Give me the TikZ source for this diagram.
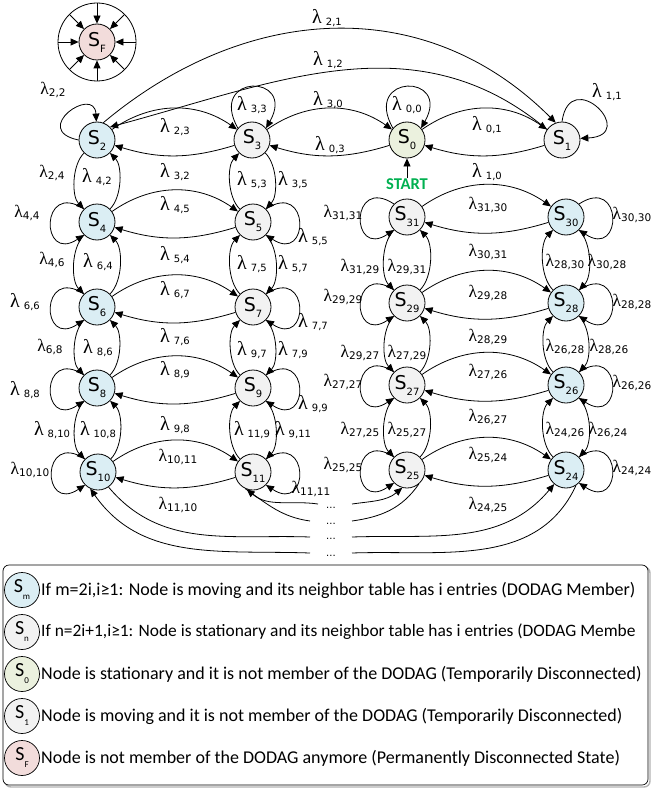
\documentclass[tikz,border=0pt]{standalone}
\usepackage{fontspec}
\setmainfont{DejaVu Sans}
\newfontfamily\lamfont{Liberation Serif}
\newfontfamily\legfont{Carlito}
\usetikzlibrary{arrows.meta}

\definecolor{mvblue}{RGB}{219,238,244}
\definecolor{stgray}{RGB}{242,242,242}
\definecolor{dcgreen}{RGB}{235,241,222}
\definecolor{fpink}{RGB}{242,220,219}
\definecolor{startgreen}{RGB}{0,176,80}

% state name S with a subscript
\newcommand\sname[1]{{\fontsize{19}{19}\selectfont S}\raisebox{-6pt}{\fontsize{10}{10}\selectfont #1}}
\newcommand\lname[1]{{\legfont\fontsize{20}{20}\selectfont S}\raisebox{-7pt}{\legfont\fontsize{9}{9}\selectfont #1}}
% transition rates: spaced and compact forms
\newcommand\lamA[1]{{\lamfont\fontsize{20}{20}\selectfont λ}\hspace{4pt}\raisebox{-2pt}{\fontsize{10}{10}\selectfont #1}}
\newcommand\lamB[1]{{\lamfont\fontsize{17.5}{17.5}\selectfont λ}\raisebox{-2pt}{\fontsize{10.5}{10.5}\selectfont #1}}

\newcommand\SN[5]{\node[stnode, fill=#2] (#1) at (#3,-#4) {\sname{#5}};}
\newcommand\LA[4]{\node[lab] (#1) at (#2,-#3) {\lamA{#4}};}
\newcommand\LB[4]{\node[lab] (#1) at (#2,-#3) {\lamB{#4}};}

% pair of opposite transitions between horizontal neighbours (#1 left, #2 right)
\newcommand\hpair[2]{\draw[arr] (#1) to[bend left=35] (#2); \draw[arr] (#2) to[bend left=17] (#1);}
% vertical neighbours, #1 above #2
\newcommand\vpairL[2]{\draw[arr] (#1) to[bend right=45, looseness=0.8] (#2); \draw[arr] (#2) to[bend right=45, looseness=0.8] (#1);}
\newcommand\vpairR[2]{\draw[arr] (#2) to[bend left=45, looseness=0.8] (#1); \draw[arr] (#1) to[bend left=45, looseness=0.8] (#2);}
% self loops
\newcommand\loopW[1]{\draw[arr] (#1.135) .. controls +(-44,29) and +(-44,-29) .. (#1.225);}
\newcommand\loopE[1]{\draw[arr] (#1.45) .. controls +(44,29) and +(44,-29) .. (#1.-45);}
\newcommand\loopN[1]{\draw[arr] (#1.140) .. controls +(-31,55) and +(31,55) .. (#1.40);}

\begin{document}
\begin{tikzpicture}[x=1pt, y=1pt,
  stnode/.style={circle, draw, line width=0.8pt, minimum size=36pt, inner sep=0pt},
  legcirc/.style={circle, draw, line width=0.7pt, minimum size=35pt, inner sep=0pt},
  lab/.style={inner sep=0pt, anchor=center},
  arr/.style={-{Triangle[length=8pt, width=7pt]}, line width=0.8pt},
  plain/.style={line width=0.8pt},
  dotlab/.style={inner sep=0pt, anchor=base, font=\fontsize{10}{10}\selectfont},
  legtxt/.style={inner sep=0pt, anchor=west, font=\legfont\fontsize{18}{18}\selectfont}]
\useasboundingbox (0,0) rectangle (652,-789);

% states
\SN{S2}{mvblue}{97}{140}{2}
\SN{S3}{stgray}{252}{140}{3}
\SN{S0}{dcgreen}{407}{140}{0}
\SN{S1}{stgray}{562}{140}{1}
\SN{S4}{mvblue}{97}{222}{4}
\SN{S5}{stgray}{253}{222}{5}
\SN{S6}{mvblue}{97}{307}{6}
\SN{S7}{stgray}{253}{307}{7}
\SN{S8}{mvblue}{97}{388}{8}
\SN{S9}{stgray}{253}{388}{9}
\SN{S10}{mvblue}{98}{472}{10}
\SN{S11}{stgray}{253}{472}{11}
\SN{S31}{stgray}{407}{217}{31}
\SN{S30}{mvblue}{566}{217}{30}
\SN{S29}{stgray}{407}{303}{29}
\SN{S28}{mvblue}{566}{303}{28}
\SN{S27}{stgray}{407}{385}{27}
\SN{S26}{mvblue}{566}{385}{26}
\SN{S25}{stgray}{407}{470}{25}
\SN{S24}{mvblue}{566}{470}{24}
\SN{SF}{fpink}{97}{42}{F}

% absorbing state
\draw[plain] (SF.center) circle[radius=39];
\foreach \a in {0,45,...,315}
  \draw[arr] ([shift={(\a:39)}]SF.center) -- (SF.\a);

% start marker
\node[inner sep=0pt, font=\legfont\bfseries\fontsize{16.5}{16.5}\selectfont, text=startgreen] (start) at (407,-184) {START};
\draw[arr] (start.north) -- (S0);

% horizontal transitions
\hpair{S2}{S3} \hpair{S3}{S0} \hpair{S0}{S1}
\hpair{S4}{S5} \hpair{S6}{S7} \hpair{S8}{S9} \hpair{S10}{S11}
\hpair{S31}{S30} \hpair{S29}{S28} \hpair{S27}{S26} \hpair{S25}{S24}

% vertical transitions
\vpairL{S2}{S4} \vpairL{S4}{S6} \vpairL{S6}{S8} \vpairL{S8}{S10}
\vpairL{S31}{S29} \vpairL{S29}{S27} \vpairL{S27}{S25}
\vpairR{S3}{S5} \vpairR{S5}{S7} \vpairR{S7}{S9} \vpairR{S9}{S11}
\vpairR{S30}{S28} \vpairR{S28}{S26} \vpairR{S26}{S24}

% self loops
\draw[arr] (S2.180) .. controls +(-49,10) and +(-2,37) .. (S2.92);
\loopN{S3} \loopN{S0}
\draw[arr] (S1.90) .. controls +(8,57) and +(60,3) .. (S1.5);
\loopW{S4} \loopW{S6} \loopW{S8} \loopW{S10}
\loopW{S31} \loopW{S29} \loopW{S27} \loopW{S25}
\loopE{S5} \loopE{S7} \loopE{S9} \loopE{S11}
\loopE{S30} \loopE{S28} \loopE{S26} \loopE{S24}

% long transitions between S1 and S2
\draw[arr] (S2.70) to[out=40, in=135, looseness=1.05] (S1.110);
\draw[arr] (S1.145) to[out=140, in=15] (S2.45);

% continuation towards the omitted states
\node[dotlab] (k1) at (331,-508) {...};
\node[dotlab] (k2) at (331,-524) {...};
\node[dotlab] (k3) at (331,-539) {...};
\node[dotlab] (k4) at (331,-556) {...};
\coordinate (d1l) at (318,-504); \coordinate (d1r) at (352,-504);
\coordinate (d2l) at (310,-521); \coordinate (d2r) at (352,-521);
\coordinate (d3l) at (310,-537); \coordinate (d3r) at (352,-537);
\coordinate (d4l) at (310,-553); \coordinate (d4r) at (352,-553);
\draw[arr] (d1l) to[out=172, in=-40] (S11.-110);
\draw[plain] (S11.-115) to[out=-35, in=172] (d2l);
\draw[arr] (d1r) to[out=8, in=-140] (S25.-105);
\draw[plain] (S25.-50) to[out=-125, in=8] (d2r);
\draw[plain] (S10.-55) to[out=-50, in=178] (d3l);
\draw[arr] (d3r) to[out=2, in=-130] (S24.-130);
\draw[arr] (d4l) to[out=178, in=-55] (S10.-115);
\draw[plain] (S24.-57) to[out=-115, in=2] (d4r);

% rate labels, left block
\LA{l21}{327}{18}{2,1}
\LA{l12}{328}{60}{1,2}
\LA{l30}{328}{100}{3,0}
\LA{l03}{330}{145}{0,3}
\LA{l00}{407}{105}{0,0}
\LA{l01}{487}{125}{0,1}
\LA{l10}{487}{172}{1,0}
\LA{l11}{607}{92}{1,1}
\LA{l33}{252}{105}{3,3}
\LA{l23}{175}{127}{2,3}
\LA{l32}{175}{172}{3,2}
\LB{l22}{53}{90}{2,2}
\LB{l24}{52}{173}{2,4}
\LA{l42}{97}{177}{4,2}
\LA{l53}{252}{180}{5,3}
\LA{l35}{293}{180}{3,5}
\LB{l44}{27}{213}{4,4}
\LA{l45}{175}{205}{4,5}
\LA{l55}{313}{237}{5,5}
\LB{l46}{52}{260}{4,6}
\LA{l64}{98}{262}{6,4}
\LA{l54}{175}{255}{5,4}
\LA{l75}{252}{264}{7,5}
\LA{l57}{293}{264}{5,7}
\LA{l66}{25}{302}{6,6}
\LA{l67}{175}{290}{6,7}
\LA{l77}{313}{322}{7,7}
\LB{l68}{50}{347}{6,8}
\LA{l86}{98}{348}{8,6}
\LA{l76}{175}{337}{7,6}
\LA{l97}{252}{350}{9,7}
\LA{l79}{293}{350}{7,9}
\LA{l89}{175}{370}{8,9}
\LA{l88}{25}{390}{8,8}
\LA{l99}{313}{404}{9,9}
\LA{l810}{52}{430}{8,10}
\LA{l108}{98}{430}{10,8}
\LA{l98}{175}{425}{9,8}
\LA{l119}{252}{430}{11,9}
\LA{l911}{293}{430}{9,11}
\LB{l1011}{178}{457}{10,11}
\LB{l1010}{30}{470}{10,10}
\LB{l1110}{178}{505}{11,10}
\LB{l1111}{311}{489}{11,11}

% rate labels, right block
\LB{l3131}{343}{213}{31,31}
\LB{l3130}{488}{205}{31,30}
\LB{l3030}{632}{215}{30,30}
\LB{l3031}{488}{252}{30,31}
\LB{l3129}{360}{267}{31,29}
\LB{l2931}{407}{267}{29,31}
\LB{l2830}{565}{262}{28,30}
\LB{l3028}{607}{262}{30,28}
\LB{l2929}{343}{297}{29,29}
\LB{l2928}{488}{293}{29,28}
\LB{l2828}{632}{302}{28,28}
\LB{l2829}{488}{337}{28,29}
\LB{l2927}{360}{353}{29,27}
\LB{l2729}{407}{353}{27,29}
\LB{l2628}{565}{347}{26,28}
\LB{l2826}{609}{347}{28,26}
\LB{l2727}{343}{382}{27,27}
\LB{l2726}{488}{372}{27,26}
\LB{l2626}{632}{383}{26,26}
\LB{l2627}{488}{417}{26,27}
\LB{l2725}{360}{430}{27,25}
\LB{l2527}{407}{430}{25,27}
\LB{l2426}{565}{430}{24,26}
\LB{l2624}{608}{430}{26,24}
\LB{l2525}{343}{465}{25,25}
\LB{l2524}{488}{455}{25,24}
\LB{l2424}{632}{468}{24,24}
\LB{l2425}{488}{505}{24,25}

% legend
\draw[draw=gray!60, line width=1.4pt, rounded corners=6] (5,-567) rectangle (650,-787);
\draw[line width=0.7pt, rounded corners=6, fill=white] (3,-565) rectangle (648,-785);
\node[legcirc, fill=mvblue] (Lm) at (22,-590) {\lname{m}};
\node[legcirc, fill=stgray] (Ln) at (22,-632) {\lname{n}};
\node[legcirc, fill=dcgreen] (L0) at (22,-674) {\lname{0}};
\node[legcirc, fill=stgray] (L1) at (22,-716) {\lname{1}};
\node[legcirc, fill=fpink] (LF) at (22,-758) {\lname{F}};
\node[legtxt] (Tm) at (41,-590) {If m=2i,i≥1: Node is moving and its neighbor table has i entries (DODAG Member)};
\node[legtxt, font=\legfont\fontsize{17.4}{17.4}\selectfont] (Tn) at (41,-632) {If n=2i+1,i≥1: Node is stationary and its neighbor table has i entries (DODAG Membe};
\node[legtxt] (T0) at (41,-674) {Node is stationary and it is not member of the DODAG (Temporarily Disconnected)};
\node[legtxt] (T1) at (41,-716) {Node is moving and it is not member of the DODAG (Temporarily Disconnected)};
\node[legtxt] (TF) at (41,-758) {Node is not member of the DODAG anymore (Permanently Disconnected State)};
\end{tikzpicture}
\end{document}
